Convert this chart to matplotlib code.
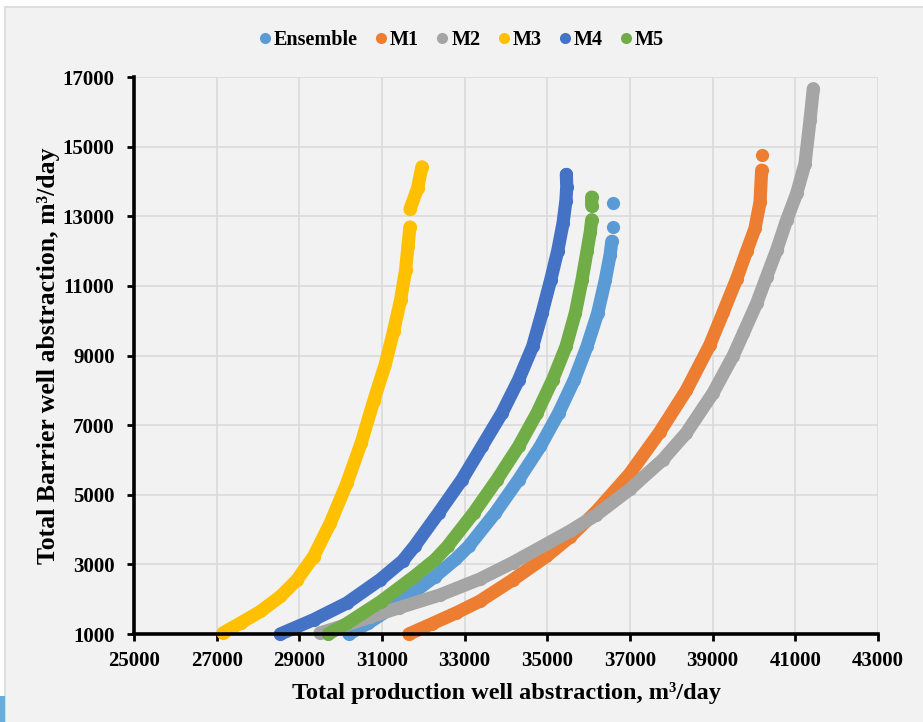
import matplotlib

matplotlib.use("Agg")
import matplotlib.pyplot as plt
import numpy as np
from matplotlib.patches import Rectangle

nan = np.nan

# Pareto fronts (x: production, y: barrier abstraction, m3/day)
ens_x = [30200, 30660, 31466, 32272, 32774, 33100, 33742, 34306, 34831, 35274, 35653, 35960, 36218, 36403, 36520, 36560, nan, 36581, nan, 36581]
ens_y = [1000, 1307, 1927, 2644, 3141, 3524, 4480, 5436, 6392, 7348, 8304, 9260, 10216, 11172, 11900, 12280, nan, 12680, nan, 13370]

m1_x = [31650, 32200, 32800, 33363, 34169, 34976, 35540, 36185, 36992, 37718, 38363, 38930, 39258, 39581, 39823, 40024, 40145, 40185, nan, 40185]
m1_y = [1000, 1290, 1610, 1940, 2560, 3230, 3780, 4520, 5600, 6800, 8000, 9300, 10250, 11200, 12000, 12650, 13400, 14323, nan, 14753]

m2_x = [29500, 30100, 30700, 31400, 32400, 33363, 34169, 34976, 35540, 36185, 36992, 37798, 38363, 39008, 39500, 39742, 40065, 40306, 40548, 40790, 41032, 41234, 41355, 41435]
m2_y = [1030, 1250, 1480, 1750, 2120, 2575, 3053, 3580, 3950, 4420, 5153, 6012, 6776, 7921, 9000, 9639, 10499, 11264, 12029, 12889, 13654, 14514, 15757, 16665]

m3_x = [27150, 27578, 28060, 28542, 28944, 29345, 29747, 30149, 30500, 30800, 31080, 31280, 31450, 31570, 31630, 31676, nan, 31676, 31860, 31966]
m3_y = [1030, 1315, 1650, 2079, 2557, 3225, 4180, 5327, 6500, 7700, 8750, 9700, 10600, 11450, 12150, 12690, nan, 13200, 13800, 14420]

m4_x = [28540, 29345, 30149, 30952, 31500, 31790, 32371, 32935, 33419, 33903, 34306, 34645, 34871, 35081, 35250, 35380, 35450, 35470, 35460]
m4_y = [1000, 1411, 1888, 2557, 3100, 3524, 4480, 5436, 6392, 7348, 8304, 9260, 10216, 11172, 12000, 12800, 13450, 13850, 14200]

m5_x = [29700, 30160, 30966, 31772, 32290, 32590, 33218, 33782, 34306, 34750, 35129, 35452, 35677, 35839, 35960, 36040, 36073, nan, 36073, 36073]
m5_y = [1000, 1307, 1927, 2644, 3141, 3524, 4480, 5436, 6392, 7348, 8304, 9260, 10216, 11172, 12000, 12550, 12900, nan, 13300, 13550]

SERIES = [
    ("Ensemble", ens_x, ens_y, "#5b9bd5"),
    ("M1", m1_x, m1_y, "#ed7d31"),
    ("M2", m2_x, m2_y, "#a5a5a5"),
    ("M3", m3_x, m3_y, "#ffc000"),
    ("M4", m4_x, m4_y, "#4472c4"),
    ("M5", m5_x, m5_y, "#70ad47"),
]

plt.rcParams["font.family"] = ["Liberation Serif", "DejaVu Serif"]
plt.rcParams["font.weight"] = "bold"

W, H = 923, 722
fig = plt.figure(figsize=(W / 100, H / 100), dpi=100)
fig.patch.set_facecolor("white")
# chart area background with light border (behind the axes)
fig.add_artist(Rectangle((5 / W, -0.05), 1.2, 1 - 7 / H + 0.05, transform=fig.transFigure,
                         facecolor="#f2f2f2", edgecolor="#d9d9d9", linewidth=1.2, zorder=-10))
fig.add_artist(Rectangle((0, 0), 5 / W, 26 / H, transform=fig.transFigure,
                         facecolor="#6aaed6", edgecolor="none", zorder=-9))

ax = fig.add_axes([134 / W, 1 - 634 / H, 744 / W, 557 / H])
ax.set_facecolor("none")

for name, xs, ys, col in SERIES:
    ax.plot(xs, ys, color=col, lw=9.5, marker="o", ms=9.5, mew=0,
            solid_capstyle="round", solid_joinstyle="round", zorder=3, clip_on=False)

ax.set_xlim(25000, 43000)
ax.set_ylim(1000, 17000)
ax.set_xticks(np.arange(25000, 43001, 2000))
ax.set_yticks(np.arange(1000, 17001, 2000))
ax.grid(True, color="#d9d9d9", linewidth=1.1, zorder=0)
ax.set_axisbelow(True)
for s in ["top", "right"]:
    ax.spines[s].set_visible(False)
for s in ["left", "bottom"]:
    ax.spines[s].set_linewidth(2.6)
    ax.spines[s].set_color("black")
    ax.spines[s].set_zorder(4)
ax.tick_params(direction="out", length=5, width=2, labelsize=15)
ax.tick_params(axis="y", pad=9)
ax.tick_params(axis="x", pad=7)
for lab in ax.get_xticklabels() + ax.get_yticklabels():
    lab.set_fontweight("bold")

ax.set_xlabel("Total production well abstraction, m³/day", fontsize=17.5, fontweight="bold", labelpad=8)
ax.set_ylabel("Total Barrier well abstraction, m³/day", fontsize=18.5, fontweight="bold", labelpad=2)

leg_handles = [plt.Line2D([], [], ls="none", marker="o", ms=8, mew=0, color=c) for _, _, _, c in SERIES]
fig.legend(leg_handles, [s[0] for s in SERIES], loc="center", bbox_to_anchor=(0.5, 1 - 40 / H),
           ncol=6, frameon=False, handlelength=0.6, handletextpad=0.15, columnspacing=0.85,
           prop={"size": 14.5, "weight": "bold"})

fig.savefig("out.png", dpi=100)
